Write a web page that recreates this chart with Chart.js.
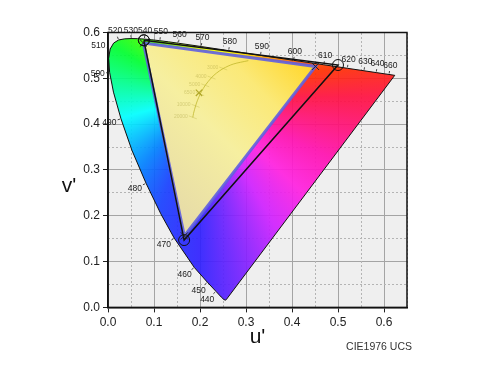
<!DOCTYPE html>
<html><head><meta charset="utf-8">
<script src="https://cdn.jsdelivr.net/npm/chart.js@4.4.1/dist/chart.umd.min.js"></script>
<style>html,body{margin:0;padding:0;background:#fff;}#wrap{width:490px;height:368px;}</style>
</head><body><div id="wrap"><canvas id="c" width="490" height="368"></canvas></div>
<script>
// Spectral locus (CIE 1976 u'v')
const wavelengths = [380,400,420,430,440,450,460,470,475,480,485,490,495,500,505,510,515,520,525,530,535,540,545,550,555,560,570,580,590,600,610,620,630,640,650,660,680,700];
const locusU = [0.2568,0.2557,0.2522,0.2461,0.2347,0.2161,0.1877,0.1441,0.1147,0.0828,0.0521,0.0282,0.0119,0.0035,0.0014,0.0046,0.0123,0.0231,0.0360,0.0501,0.0643,0.0792,0.0953,0.1127,0.1319,0.1531,0.2026,0.2623,0.3315,0.4035,0.4692,0.5203,0.5565,0.5830,0.6005,0.6109,0.6199,0.6234];
const locusV = [0.0166,0.0159,0.0169,0.0226,0.0350,0.0549,0.0871,0.1510,0.2044,0.2708,0.3427,0.4117,0.4698,0.5131,0.5432,0.5638,0.5770,0.5837,0.5861,0.5868,0.5865,0.5856,0.5841,0.5821,0.5796,0.5766,0.5694,0.5604,0.5501,0.5393,0.5296,0.5219,0.5165,0.5125,0.5099,0.5084,0.5070,0.5065];
const labeledWavelengths = [440,450,460,470,480,490,500,510,520,530,540,550,560,570,580,590,600,610,620,630,640,660];
// Filled (yellow) gamut, x markers
const gamutAU = [0.077, 0.451, 0.166];
const gamutAV = [0.577, 0.526, 0.156];
// Outlined (black) gamut, circle markers
const gamutBU = [0.078, 0.500, 0.1655];
const gamutBV = [0.583, 0.529, 0.147];
// Planckian locus
const planckK = [2000,2500,3000,3500,4000,5000,6000,6500,8000,10000,15000,20000];
const planckU = [0.3051,0.2722,0.2505,0.2357,0.2251,0.2114,0.2033,0.2004,0.1946,0.1904,0.1859,0.1844];
const planckV = [0.5386,0.5311,0.5214,0.5113,0.5016,0.4847,0.4712,0.4656,0.4521,0.4399,0.4232,0.4148];
const planckLabels = ['3000','4000','5000','6500','10000','20000'];
const whitePoint = [0.1978, 0.4683];
const xTicks = [0,0.1,0.2,0.3,0.4,0.5,0.6];
const yTicks = [0,0.1,0.2,0.3,0.4,0.5,0.6];

const FONT = '"Liberation Sans", Arial, Helvetica, sans-serif';
const pts = (U,V) => U.map((u,i)=>({x:u, y:V[i]}));
const closed = (U,V) => { const p = pts(U,V); p.push({...p[0]}); return p; };

const hueStops = [[0,'#ff1040'],[10,'#ff1070'],[25,'#ff10b0'],[43,'#ff20e0'],[60,'#d020ff'],[75,'#8020ff'],[90,'#3020ff'],[110,'#1840ff'],[130,'#0080ff'],[150,'#00c8ff'],[165,'#00ffff'],[190,'#00ff90'],[210,'#00ff30'],[225,'#40ff00'],[245,'#a0ff00'],[270,'#e8ff00'],[300,'#ffff00'],[320,'#ffd000'],[335,'#ff8000'],[348,'#ff3000'],[360,'#ff1040']];
const withAlpha = (hex, a) => { const n = parseInt(hex.slice(1),16); return `rgba(${n>>16},${(n>>8)&255},${n&255},${a})`; };

function locusFill(c){
  const ch = c.chart; if (!ch.chartArea) return 'transparent';
  const {ctx, scales:{x,y}} = ch;
  const g = ctx.createConicGradient(0, x.getPixelForValue(0.20), y.getPixelForValue(0.46));
  hueStops.forEach(([a,col]) => g.addColorStop(a/360, withAlpha(col, 0.92)));
  return g;
}
function gamutFill(c){
  const ch = c.chart; if (!ch.chartArea) return 'transparent';
  const {ctx, scales:{x,y}} = ch;
  const g = ctx.createLinearGradient(x.getPixelForValue(0.092), y.getPixelForValue(0.25), x.getPixelForValue(0.400), y.getPixelForValue(0.558));
  g.addColorStop(0,'#e6dba8'); g.addColorStop(0.45,'#f6efa0'); g.addColorStop(0.75,'#fbe978'); g.addColorStop(1,'#ffd830');
  return g;
}
const isMajor = v => Math.round(v*100) % 10 === 0;

const bgPlugin = {
  id:'bg',
  beforeDraw(ch){
    const {ctx, chartArea:a} = ch;
    ctx.save(); ctx.fillStyle='#fff'; ctx.fillRect(0,0,ch.width,ch.height);
    ctx.fillStyle='#efefef'; ctx.fillRect(a.left,a.top,a.right-a.left,a.bottom-a.top); ctx.restore();
  },
  afterDraw(ch){
    const {ctx, chartArea:a, scales:{x,y}} = ch;
    ctx.save();
    ctx.strokeStyle='#111'; ctx.lineWidth=1.5;
    ctx.strokeRect(a.left,a.top,a.right-a.left,a.bottom-a.top);
    // wavelength labels
    ctx.font = '8.5px ' + FONT; ctx.fillStyle='#1a1a1a'; ctx.strokeStyle='#1a1a1a'; ctx.lineWidth=0.8;
    ctx.textAlign='center'; ctx.textBaseline='middle';
    labeledWavelengths.forEach(w => {
      const i = wavelengths.indexOf(w);
      const px = x.getPixelForValue(locusU[i]), py = y.getPixelForValue(locusV[i]);
      const ax = x.getPixelForValue(locusU[i-1]), ay = y.getPixelForValue(locusV[i-1]);
      const bx = x.getPixelForValue(locusU[i+1]), by = y.getPixelForValue(locusV[i+1]);
      let tx = bx-ax, ty = by-ay; const L = Math.hypot(tx,ty); tx/=L; ty/=L;
      const nx = ty, ny = -tx;
      const txt = String(w); const hw = ctx.measureText(txt).width/2, hh = 3.3;
      const d = 4.5 + Math.abs(nx)*hw + Math.abs(ny)*hh;
      ctx.beginPath(); ctx.moveTo(px+nx*1, py+ny*1); ctx.lineTo(px+nx*3.5, py+ny*3.5); ctx.stroke();
      ctx.fillText(txt, px+nx*d, py+ny*d);
    });
    // planck labels (faint)
    ctx.font = '5px ' + FONT; ctx.fillStyle='rgba(150,140,40,0.35)'; ctx.textAlign='right';
    ctx.strokeStyle='rgba(170,160,40,0.4)'; ctx.lineWidth=0.7;
    planckLabels.forEach(l => {
      const i = planckK.indexOf(+l);
      const px = x.getPixelForValue(planckU[i]), py = y.getPixelForValue(planckV[i]);
      ctx.beginPath(); ctx.moveTo(px-4,py-1.5); ctx.lineTo(px+4,py+1.5); ctx.stroke();
      ctx.fillText(l, px-5, py-1);
    });
    // titles
    ctx.fillStyle='#111'; ctx.textAlign='center'; ctx.textBaseline='middle';
    ctx.font = '21px ' + FONT;
    ctx.fillText("v'", a.left-39, (a.top+a.bottom)/2 + 16);
    ctx.fillText("u'", (a.left+a.right)/2, a.bottom + 30);
    ctx.font = '10.5px ' + FONT; ctx.fillStyle='#333'; ctx.textAlign='right';
    ctx.fillText('CIE1976 UCS', a.right + 5, a.bottom + 40);
    ctx.restore();
  }
};

new Chart(document.getElementById('c'), {
  type:'line',
  data:{ datasets:[
    { label:'locus', data: closed(locusU, locusV), fill:'shape', backgroundColor: locusFill,
      borderColor:'#111', borderWidth:1, pointRadius:0, tension:0, order:6 },
    { label:'gamutA', data: closed(gamutAU, gamutAV), fill:'shape', backgroundColor: gamutFill,
      borderColor:'rgba(95,95,225,0.9)', borderWidth:3, pointRadius:0, tension:0, order:5 },
    { label:'planck', data: pts(planckU, planckV), fill:false, borderColor:'rgba(190,180,40,0.75)',
      borderWidth:1, pointRadius:0, tension:0.3, order:4 },
    { label:'gamutB', data: closed(gamutBU, gamutBV), fill:false, borderColor:'#111', borderWidth:1.5,
      pointRadius:5.5, pointStyle:'circle', pointBackgroundColor:'rgba(0,0,0,0)', pointBorderColor:'#111', pointBorderWidth:1, tension:0, order:3 },
    { label:'gamutA markers', data: pts(gamutAU, gamutAV), showLine:false, pointRadius:5, pointStyle:'crossRot',
      pointBorderColor:'#222', pointBorderWidth:1, order:2 },
    { label:'white', data: [{x:whitePoint[0], y:whitePoint[1]}], showLine:false, pointRadius:4.5, pointStyle:'crossRot',
      pointBorderColor:'rgba(170,160,30,0.9)', pointBorderWidth:1.2, order:1 }
  ]},
  options:{
    responsive:false, animation:false, devicePixelRatio:1,
    layout:{ padding:{ left:0, right:83, top:32.5, bottom:0 } },
    plugins:{ legend:{display:false}, tooltip:{enabled:false} },
    scales:{
      x:{ type:'linear', position:'bottom', min:0, max:0.65,
        afterBuildTicks: s => { s.ticks = xTicks.map(v=>({value:v})); },
        ticks:{ callback:v=>Number(v).toFixed(1), color:'#222', font:{family:FONT, size:12}, padding:3, maxRotation:0, autoSkip:false },
        grid:{ color:'#a4a4a4', lineWidth:1, tickColor:'#222', tickLength:5 },
        border:{ display:true, color:'#111', width:1.5 },
        afterFit: s => { s.height = 60.6; } },
      y:{ type:'linear', position:'left', min:0, max:0.6,
        afterBuildTicks: s => { s.ticks = yTicks.map(v=>({value:v})); },
        ticks:{ callback:v=>Number(v).toFixed(1), color:'#222', font:{family:FONT, size:12}, padding:3, autoSkip:false },
        grid:{ color:'#a4a4a4', lineWidth:1, tickColor:'#222', tickLength:5 },
        border:{ display:true, color:'#111', width:1.5 },
        afterFit: s => { s.width = 108; } },
      x2:{ type:'linear', position:'top', min:0, max:0.65,
        ticks:{ display:false, stepSize:0.05, includeBounds:false, autoSkip:false },
        grid:{ drawTicks:false, lineWidth:1, color: c => (c.tick && !isMajor(c.tick.value)) ? '#b4b4b4' : 'rgba(0,0,0,0)' },
        border:{ display:false, dash:[2,2] },
        afterFit: s => { s.height = 0; } },
      y2:{ type:'linear', position:'right', min:0, max:0.6,
        ticks:{ display:false, stepSize:0.05, includeBounds:false, autoSkip:false },
        grid:{ drawTicks:false, lineWidth:1, color: c => (c.tick && !isMajor(c.tick.value)) ? '#b4b4b4' : 'rgba(0,0,0,0)' },
        border:{ display:false, dash:[2,2] },
        afterFit: s => { s.width = 0; } }
    }
  },
  plugins:[bgPlugin]
});
</script></body></html>
